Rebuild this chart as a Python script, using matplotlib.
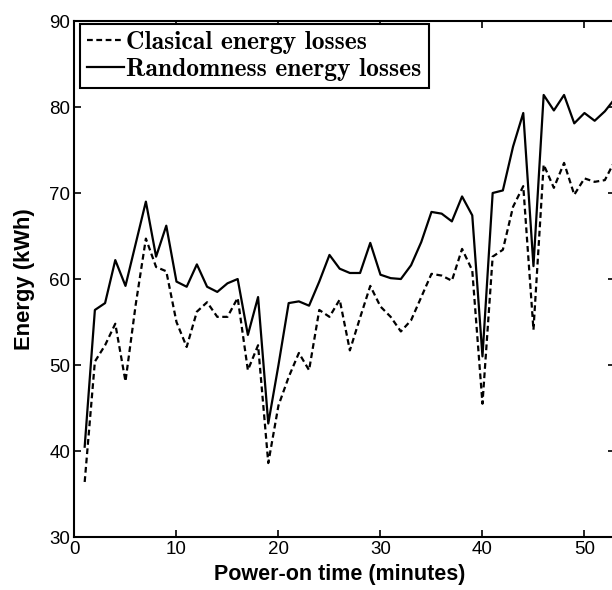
"""Classical vs randomness energy losses over power-on time."""
import matplotlib

matplotlib.use("Agg")
import matplotlib.pyplot as plt

minutes = list(range(1, 54))

classical_kwh = [
    36.4, 50.4, 52.3, 54.8, 48.1, 57.0, 64.7, 61.4, 60.9, 55.0,
    52.1, 56.2, 57.3, 55.6, 55.6, 57.8, 49.4, 52.3, 38.6, 45.3,
    48.6, 51.4, 49.4, 56.4, 55.6, 57.6, 51.7, 55.5, 59.2, 56.8,
    55.6, 53.9, 55.2, 57.9, 60.6, 60.4, 59.8, 63.5, 61.0, 45.5,
    62.6, 63.4, 68.4, 70.8, 54.1, 73.3, 70.6, 73.5, 69.8, 71.7,
    71.3, 71.5, 73.8,
]

randomness_kwh = [
    40.5, 56.4, 57.2, 62.2, 59.2, 64.1, 69.0, 62.6, 66.2, 59.7,
    59.1, 61.7, 59.1, 58.5, 59.5, 60.0, 53.5, 57.9, 43.2, 50.0,
    57.2, 57.4, 56.9, 59.7, 62.8, 61.2, 60.7, 60.7, 64.2, 60.5,
    60.1, 60.0, 61.6, 64.3, 67.8, 67.6, 66.7, 69.6, 67.4, 51.0,
    70.0, 70.3, 75.4, 79.3, 61.5, 81.4, 79.6, 81.4, 78.1, 79.3,
    78.4, 79.5, 81.0,
]

x_ticks = [0, 10, 20, 30, 40, 50]
y_ticks = [30, 40, 50, 60, 70, 80, 90]

fig = plt.figure(figsize=(6.12, 5.9), dpi=100)
# axes run slightly past the right edge, as in the cropped original
ax = fig.add_axes([0.1217, 0.0898, 0.8833, 0.8746])

ax.plot(minutes, classical_kwh, color="black", linewidth=1.6,
        linestyle=(0, (2.6, 1.6)), label="Clasical energy losses")
ax.plot(minutes, randomness_kwh, color="black", linewidth=1.6,
        label="Randomness energy losses")

ax.set_xlim(0, 53)
ax.set_ylim(30, 90)
ax.set_xticks(x_ticks)
ax.set_yticks(y_ticks)
ax.tick_params(direction="in", length=5, width=1.2, top=True, right=True,
               labelsize=13.5, pad=3)
for spine in ax.spines.values():
    spine.set_linewidth(1.5)

ax.set_xlabel("Power-on time (minutes)", fontsize=15.5, fontweight="bold",
              family="Liberation Sans")
ax.set_ylabel("Energy (kWh)", fontsize=15.8, fontweight="bold",
              family="Liberation Sans", labelpad=10)
ax.xaxis.set_label_coords(0.49, -0.052)
for lbl in ax.get_xticklabels() + ax.get_yticklabels():
    lbl.set_family("Liberation Sans")

leg = ax.legend(loc="upper left", bbox_to_anchor=(0.010, 0.995),
                prop={"family": "cmb10", "size": 18.4}, fancybox=False,
                framealpha=1, edgecolor="black", handlelength=1.45,
                handletextpad=0.08, borderpad=0.28, labelspacing=0.15,
                borderaxespad=0)
leg.get_frame().set_linewidth(1.5)

fig.savefig("out.png", dpi=100)
